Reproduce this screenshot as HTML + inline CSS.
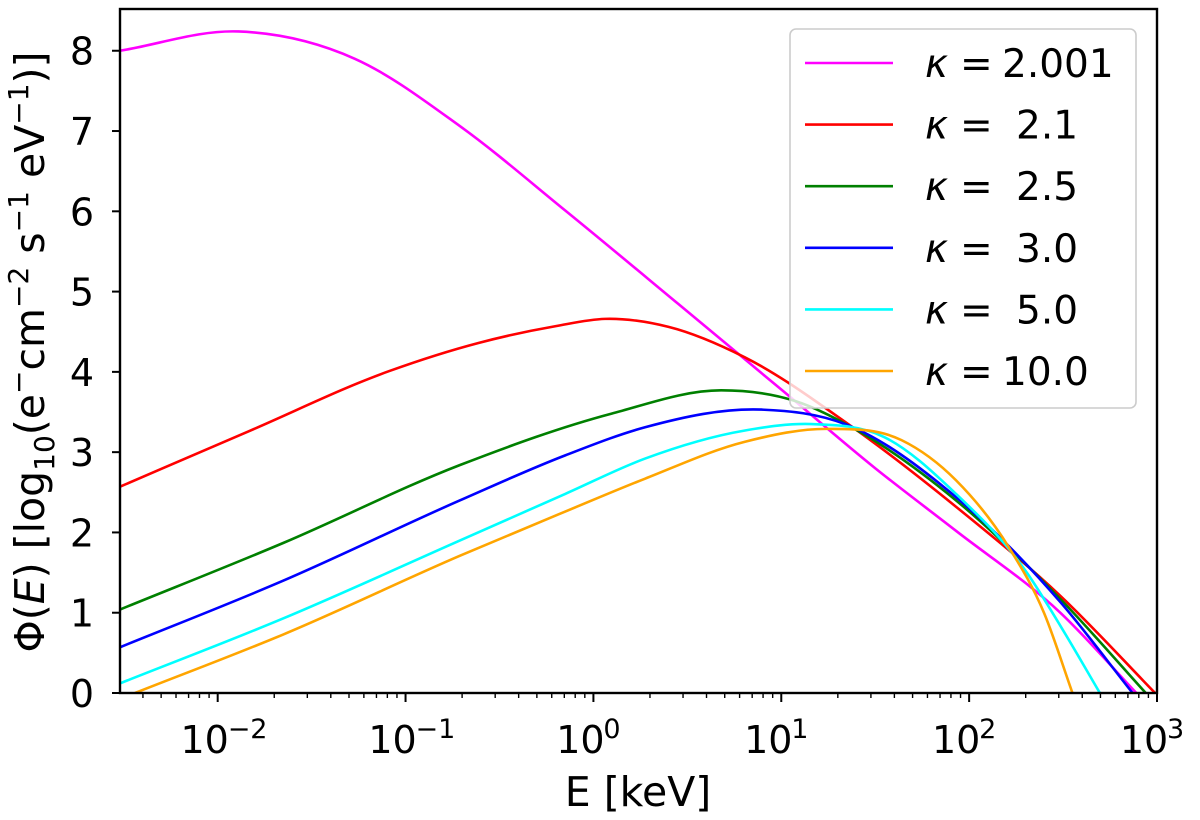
<!DOCTYPE html>
<html><head><meta charset="utf-8"><style>
html,body{margin:0;padding:0;background:#fff;}
svg{display:block;font-family:"DejaVu Sans","Liberation Sans",sans-serif;}
</style></head><body>
<svg id="chart" width="1200" height="820" viewBox="0 0 1200 820">
</svg>
<script>
const xTicks=[-2,-1,0,1,2,3];
const yTicks=[0,1,2,3,4,5,6,7,8];
const seriesKappa=["2.001","2.1","2.5","3.0","5.0","10.0"];
const seriesColors=["#ff00ff","#ff0000","#008000","#0000ff","#00ffff","#ffa500"];
const logE_k2001=[-2.52,-1.89,-1.27,-0.71,-0.15,0.45,1.0,1.5,1.93,2.49,2.89];
const phi_k2001=[8.0,8.24,7.90,7.06,6.01,4.85,3.78,2.80,2.02,0.99,0.0];
const logE_k21=[-2.52,-1.835,-1.087,-0.612,-0.2,0.062,0.40,0.807,1.356,1.93,2.49,2.99];
const phi_k21=[2.57,3.26,4.01,4.36,4.57,4.66,4.56,4.18,3.35,2.32,1.20,0.0];
const logE_k25=[-2.52,-1.65,-0.71,0.097,0.68,1.07,1.39,1.93,2.49,2.94];
const phi_k25=[1.04,1.87,2.84,3.48,3.77,3.64,3.29,2.40,1.16,0.0];
const logE_k30=[-2.52,-1.65,-0.71,-0.15,0.275,0.895,1.339,1.93,2.49,2.87];
const phi_k30=[0.57,1.40,2.40,2.96,3.31,3.53,3.35,2.44,1.12,0.0];
const logE_k50=[-2.52,-1.65,-0.71,-0.15,0.275,0.807,1.16,1.546,1.93,2.31,2.49,2.696];
const phi_k50=[0.12,0.93,1.90,2.48,2.92,3.27,3.35,3.19,2.48,1.49,0.82,0.0];
const logE_k10=[-2.44,-1.65,-0.71,-0.15,0.275,0.807,1.25,1.64,1.93,2.21,2.40,2.55];
const phi_k10=[0.0,0.73,1.71,2.26,2.67,3.13,3.29,3.15,2.65,1.82,0.99,0.0];
const allX=[logE_k2001,logE_k21,logE_k25,logE_k30,logE_k50,logE_k10];
const allY=[phi_k2001,phi_k21,phi_k25,phi_k30,phi_k50,phi_k10];

const L=120,R=1157,T=9,B=693;
const xMin=-2.52,xMax=3;
const yMin=0,yMax=8.52;
function xs(v){return L+(v-xMin)/(xMax-xMin)*(R-L);}
function ys(v){return B-(v-yMin)/(yMax-yMin)*(B-T);}
const NS="http://www.w3.org/2000/svg";
const svg=document.getElementById('chart');
function mk(tag,attrs,parent){const e=document.createElementNS(NS,tag);for(const k in attrs)e.setAttribute(k,attrs[k]);(parent||svg).appendChild(e);return e;}

const clip=mk('clipPath',{id:'clp'});mk('rect',{x:L,y:T,width:R-L,height:B-T},clip);

function pathFor(X,Y){
  const p=X.map((x,i)=>[xs(x),ys(Y[i])]);
  const n=p.length;
  const d=[],h=[];
  for(let i=0;i<n-1;i++){h.push(p[i+1][0]-p[i][0]);d.push((p[i+1][1]-p[i][1])/h[i]);}
  const m=[];
  for(let i=0;i<n;i++){
    if(i===0)m.push(d[0]);else if(i===n-1)m.push(d[n-2]);
    else m.push((h[i]*d[i-1]+h[i-1]*d[i])/(h[i-1]+h[i]));
  }
  let s=`M${p[0][0]},${p[0][1]}`;
  for(let i=0;i<n-1;i++){
    const dx=h[i]/3;
    s+=` C${p[i][0]+dx},${p[i][1]+m[i]*dx} ${p[i+1][0]-dx},${p[i+1][1]-m[i+1]*dx} ${p[i+1][0]},${p[i+1][1]}`;
  }
  return s;
}
const lines=mk('g',{'clip-path':'url(#clp)'});


allX.forEach((X,i)=>{
  const pth=mk('path',{d:pathFor(X,allY[i]),fill:'none',stroke:seriesColors[i],'stroke-width':2.6},lines);
  
  
});

const fr=mk('rect',{x:L,y:T,width:R-L,height:B-T,fill:'none',stroke:'#000','stroke-width':2.4});



yTicks.forEach(v=>{
  const y=ys(v);
  mk('line',{x1:L-8,x2:L,y1:y,y2:y,stroke:'#000','stroke-width':2});
  const t=mk('text',{x:L-26,y:y+14,'text-anchor':'end','font-size':38});
  t.textContent=v;
  
  
});
xTicks.forEach(v=>{
  const x=xs(v);
  mk('line',{x1:x,x2:x,y1:B,y2:B+9,stroke:'#000','stroke-width':2});
  const t=mk('text',{x:x-13,y:B+60,'text-anchor':'middle','font-size':38});
  t.textContent='10';
  
  
  const s=mk('text',{x:x+10,y:B+45,'text-anchor':'start','font-size':27});
  s.textContent=(v<0?'−':'')+Math.abs(v);
  
  
});
for(let d=-3;d<3;d++){for(let m=2;m<10;m++){const lv=d+Math.log10(m);if(lv<xMin||lv>xMax)continue;const x=xs(lv);mk('line',{x1:x,x2:x,y1:B,y2:B+5,stroke:'#000','stroke-width':1.4});}}

const xt=mk('text',{x:638,y:806,'text-anchor':'middle','font-size':41});
xt.textContent='E [keV]';


const yt=mk('text',{x:0,y:0,'text-anchor':'middle','font-size':41,transform:'translate(44,352) rotate(-90)'});
yt.innerHTML='Φ(<tspan font-style="italic">E</tspan>) [log<tspan font-size="28" dy="10">10</tspan><tspan dy="-10">(e</tspan><tspan font-size="28" dy="-16">−</tspan><tspan dy="16">cm</tspan><tspan font-size="28" dy="-16">−2</tspan><tspan dy="16"> s</tspan><tspan font-size="28" dy="-16">−1</tspan><tspan dy="16"> eV</tspan><tspan font-size="28" dy="-16">−1</tspan><tspan dy="16">)]</tspan>';



const lg=mk('g',{});


mk('rect',{x:790,y:29,width:346,height:379,rx:6,fill:'rgba(255,255,255,0.8)',stroke:'#cccccc','stroke-width':1.6},lg);
seriesKappa.forEach((k,i)=>{
  const y=63+i*61.6;
  const e=mk('g',{},lg);
  
  
  mk('line',{x1:805,x2:893,y1:y,y2:y,stroke:seriesColors[i],'stroke-width':2.6},e);
  const t1=mk('text',{x:925,y:y+14,'font-size':39,'font-style':'italic'},e);
  t1.textContent='κ';
  const t2=mk('text',{x:960,y:y+14,'font-size':39},e);
  t2.textContent='=';
  const t3=mk('text',{x:k.length===3?1016:1002,y:y+14,'font-size':39},e);
  t3.textContent=k;
});
</script>
</body></html>
